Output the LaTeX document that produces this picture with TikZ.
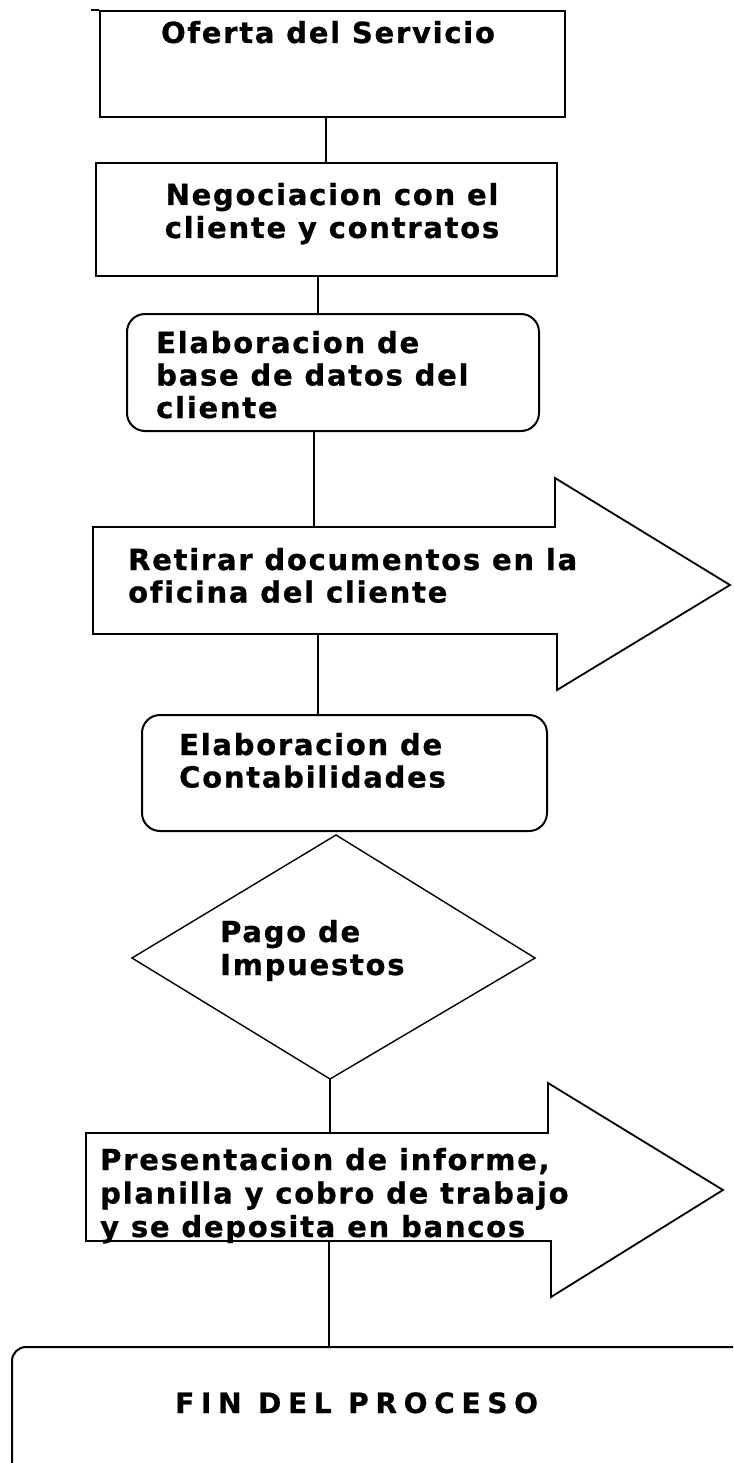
\documentclass[tikz,border=0pt]{standalone}
\usepackage{fontspec}
\newfontfamily\boxfont{DejaVu Sans}[LetterSpace=6,Ligatures=NoCommon,FakeBold=0.8]
\newfontfamily\finfont{DejaVu Sans}[LetterSpace=24,Ligatures=NoCommon,FakeBold=0.8]
\newcommand{\mlines}[1]{\begin{tabular}[t]{@{}l@{}}#1\end{tabular}}
\newcommand{\clines}[1]{\begin{tabular}[t]{@{}c@{}}#1\end{tabular}}
\begin{document}
\begin{tikzpicture}[x=1pt,y=-1pt,
  shapebox/.style={draw=black,line width=2.4pt,inner sep=0pt,fill=white},
  roundbox/.style={shapebox,line width=2pt,rounded corners=18pt},
  flowline/.style={draw=black,line width=2.2pt},
  txt/.style={inner sep=0pt,anchor=base west,align=left,
    font=\boxfont\bfseries\fontsize{29}{32.5}\selectfont},
  txtc/.style={txt,anchor=base}]
\useasboundingbox (0,0) rectangle (733,1463);
\fill[white] (0,0) rectangle (733,1463);
\clip (0,0) rectangle (733,1463);

% Box 1
\node[shapebox,minimum width=465pt,minimum height=106pt] (b1) at (332.5,64) {};
\draw[line width=2.4pt] (b1.north west) -- ++(-8,0);
\node[txtc] (t1) at (328,43) {Oferta del Servicio};

% Box 2
\node[shapebox,minimum width=461pt,minimum height=113pt] (b2) at (326.5,219.5) {};
\node[txtc,font=\boxfont\bfseries\fontsize{29}{33}\selectfont] (t2) at (332,205) {\clines{Negociacion con el\\cliente y contratos}};

% Box 3
\node[roundbox,minimum width=412pt,minimum height=117pt] (b3) at (333,372.5) {};
\node[txt] (t3) at (156,353) {\mlines{Elaboracion de\\base de datos del\\cliente}};

% Arrow 1
\coordinate (a1tl) at (93,527);
\coordinate (a1tr) at (555,527);
\coordinate (a1ht) at (555,478);
\coordinate (a1tip) at (730,585);
\coordinate (a1hb) at (557,690);
\coordinate (a1br) at (557,634);
\coordinate (a1bl) at (93,634);
\coordinate (a1in) at (314,527);
\coordinate (a1out) at (318,634);
\draw[line width=1.8pt,line join=miter,fill=white] (a1tl) -- (a1tr) -- (a1ht) -- (a1tip) -- (a1hb) -- (a1br) -- (a1bl) -- cycle;
\node[txt] (t4) at (128,570) {\mlines{Retirar documentos en la\\oficina del cliente}};

% Box 5
\node[roundbox,minimum width=405pt,minimum height=116pt] (b5) at (344.5,773) {};
\node[txt] (t5) at (179,755) {\mlines{Elaboracion de\\Contabilidades}};

% Diamond
\coordinate (dT) at (336,835);
\coordinate (dR) at (535,958);
\coordinate (dB) at (330,1079);
\coordinate (dL) at (132,958);
\draw[line width=1.4pt,fill=white] (dT) -- (dR) -- (dB) -- (dL) -- cycle;
\node[txt,font=\boxfont\bfseries\fontsize{29}{33}\selectfont] (t6) at (220,942) {\mlines{Pago de\\Impuestos}};

% Arrow 2
\coordinate (a2tl) at (86,1133);
\coordinate (a2tr) at (548,1133);
\coordinate (a2ht) at (548,1083);
\coordinate (a2tip) at (723,1190);
\coordinate (a2hb) at (551,1297);
\coordinate (a2br) at (551,1241);
\coordinate (a2bl) at (86,1241);
\coordinate (a2in) at (330,1133);
\coordinate (a2out) at (329,1241);
\draw[line width=1.8pt,line join=miter,fill=white] (a2tl) -- (a2tr) -- (a2ht) -- (a2tip) -- (a2hb) -- (a2br) -- (a2bl) -- cycle;
\node[txt,font=\boxfont\bfseries\fontsize{29}{33.5}\selectfont] (t7) at (100,1170) {\mlines{Presentacion de informe,\\planilla y cobro de trabajo\\y se deposita en bancos}};

% Fin
\node[shapebox,line width=2pt,rounded corners=14pt,minimum width=748pt,minimum height=143pt] (fin) at (386,1418.5) {};
\node[inner sep=0pt,anchor=base west,font=\finfont\bfseries\fontsize{28}{30}\selectfont] (t8) at (175,1413) {FIN DEL PROCESO};

% Connectors
\draw[flowline] ([xshift=-6.5pt]b1.south) -- ([xshift=-0.5pt]b2.north);
\draw[flowline] ([xshift=-8.5pt]b2.south) -- ([xshift=-15pt]b3.north);
\draw[flowline] ([xshift=-19pt]b3.south) -- (a1in);
\draw[flowline] (a1out) -- ([xshift=-26.5pt]b5.north);
\draw[flowline] (dB) -- (a2in);
\draw[flowline] (a2out) -- ([xshift=-57pt]fin.north);
\end{tikzpicture}
\end{document}
